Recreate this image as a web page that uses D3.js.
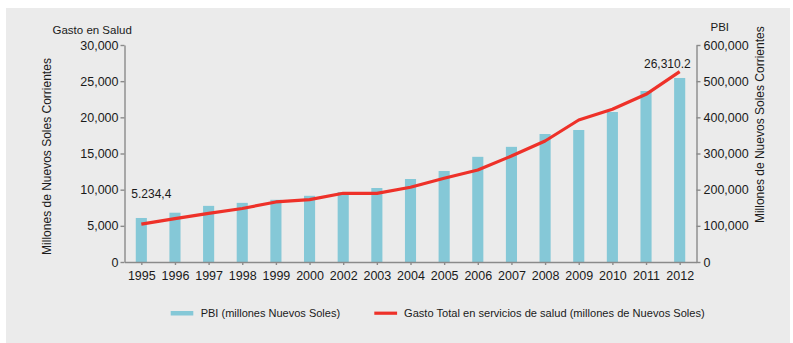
<!DOCTYPE html>
<html>
<head>
<meta charset="utf-8">
<script src="https://cdn.jsdelivr.net/npm/d3@7"></script>
<style>
  html, body { margin: 0; padding: 0; background: #ffffff; }
  svg { display: block; font-family: "Liberation Sans", Arial, sans-serif; }
  .axis path, .axis line { stroke: #8a8a8a; stroke-width: 1.4; }
  .axis text { fill: #1a1a1a; }
</style>
</head>
<body>
<svg id="chart" width="793" height="343"></svg>
<script>
// Years shown on the category axis (2001 is not part of the series)
const years = ["1995","1996","1997","1998","1999","2000","2002","2003","2004","2005","2006","2007","2008","2009","2010","2011","2012"];

// PBI, millones de Nuevos Soles corrientes (right axis, bars)
const pbi = [121700, 136300, 155200, 163500, 172000, 183000, 193500, 204600, 229500, 251600, 290800, 318400, 353900, 365000, 414750, 472800, 508800];

// Gasto total en servicios de salud, millones de Nuevos Soles (left axis, line)
const gasto = [5234.4, 5990, 6730, 7400, 8300, 8620, 9500, 9480, 10330, 11570, 12720, 14650, 16730, 19630, 21110, 23180, 26310.2];

const leftTicks = [0, 5000, 10000, 15000, 20000, 25000, 30000];
const rightTicks = [0, 100000, 200000, 300000, 400000, 500000, 600000];

const svg = d3.select("#chart");

// grey panel behind the chart
svg.append("rect")
  .attr("x", 6).attr("y", 8)
  .attr("width", 784).attr("height", 340)
  .attr("fill", "#ebebeb");

const plot = { left: 124.5, right: 696.5, top: 45, bottom: 262 };

const x = d3.scalePoint()
  .domain(years)
  .range([plot.left, plot.right])
  .padding(0.5);

const yL = d3.scaleLinear().domain([0, 30000]).range([plot.bottom, plot.top]);
const yR = d3.scaleLinear().domain([0, 600000]).range([plot.bottom, plot.top]);

const barW = x.step() * 0.33;

// bars: PBI
svg.append("g")
  .selectAll("rect")
  .data(years)
  .join("rect")
  .attr("x", (d) => x(d) - barW / 2)
  .attr("y", (d, i) => yR(pbi[i]))
  .attr("width", barW)
  .attr("height", (d, i) => yR(0) - yR(pbi[i]))
  .attr("fill", "#85c8d7");

// axes
const fmt = d3.format(",");

const gL = svg.append("g")
  .attr("class", "axis")
  .attr("transform", `translate(${plot.left},0)`)
  .call(d3.axisLeft(yL).tickValues(leftTicks).tickFormat(fmt).tickSize(4).tickSizeOuter(0).tickPadding(2));
gL.selectAll("text").attr("font-size", 12.5);

const gR = svg.append("g")
  .attr("class", "axis")
  .attr("transform", `translate(${plot.right},0)`)
  .call(d3.axisRight(yR).tickValues(rightTicks).tickFormat(fmt).tickSize(4).tickSizeOuter(0).tickPadding(3));
gR.selectAll("text").attr("font-size", 12.5);

const gX = svg.append("g")
  .attr("class", "axis")
  .attr("transform", `translate(0,${plot.bottom})`)
  .call(d3.axisBottom(x).tickSize(3).tickSizeOuter(0).tickPadding(6));
gX.selectAll("text").attr("font-size", 12.5);

// line: gasto en salud
const line = d3.line()
  .x((d, i) => x(years[i]))
  .y((d) => yL(d));

svg.append("path")
  .datum(gasto)
  .attr("d", line)
  .attr("fill", "none")
  .attr("stroke", "#ee3129")
  .attr("stroke-width", 3.2)
  .attr("stroke-linejoin", "round");

// value labels at the ends of the line
const fmtEs = d3.formatLocale({ decimal: ",", thousands: ".", grouping: [3], currency: ["", ""] }).format(",.1f");
const fmtEn = d3.format(",.1f");
const last = gasto.length - 1;

svg.append("text")
  .attr("x", x(years[0]) - 10)
  .attr("y", yL(gasto[0]) - 26)
  .attr("font-size", 12)
  .attr("fill", "#1a1a1a")
  .text(fmtEs(gasto[0]));

svg.append("text")
  .attr("x", x(years[last]) + 11)
  .attr("y", yL(gasto[last]) - 4)
  .attr("text-anchor", "end")
  .attr("font-size", 12)
  .attr("fill", "#1a1a1a")
  .text(fmtEn(gasto[last]));

// axis headings
svg.append("text")
  .attr("x", 52.5).attr("y", 34.3)
  .attr("font-size", 11.5).attr("fill", "#1a1a1a")
  .text("Gasto en Salud");

svg.append("text")
  .attr("x", 710.5).attr("y", 30.7)
  .attr("font-size", 11.5).attr("fill", "#1a1a1a")
  .text("PBI");

svg.append("text")
  .attr("transform", "translate(51,156.5) rotate(-90)")
  .attr("text-anchor", "middle")
  .attr("font-size", 12).attr("fill", "#1a1a1a")
  .text("Millones de Nuevos Soles Corrientes");

svg.append("text")
  .attr("transform", "translate(764,124.7) rotate(-90)")
  .attr("text-anchor", "middle")
  .attr("font-size", 12).attr("fill", "#1a1a1a")
  .text("Millones de Nuevos Soles Corrientes");

// legend
const leg = svg.append("g");
leg.append("rect")
  .attr("x", 170.7).attr("y", 311)
  .attr("width", 22.6).attr("height", 4.5)
  .attr("fill", "#85c8d7");
leg.append("text")
  .attr("x", 200.7).attr("y", 317.3)
  .attr("font-size", 11).attr("fill", "#1a1a1a")
  .text("PBI (millones Nuevos Soles)");
leg.append("line")
  .attr("x1", 374.3).attr("x2", 397.1)
  .attr("y1", 313.2).attr("y2", 313.2)
  .attr("stroke", "#ee3129").attr("stroke-width", 3.2);
leg.append("text")
  .attr("x", 404).attr("y", 317.3)
  .attr("font-size", 11.1).attr("fill", "#1a1a1a")
  .text("Gasto Total en servicios de salud (millones de Nuevos Soles)");
</script>
</body>
</html>
